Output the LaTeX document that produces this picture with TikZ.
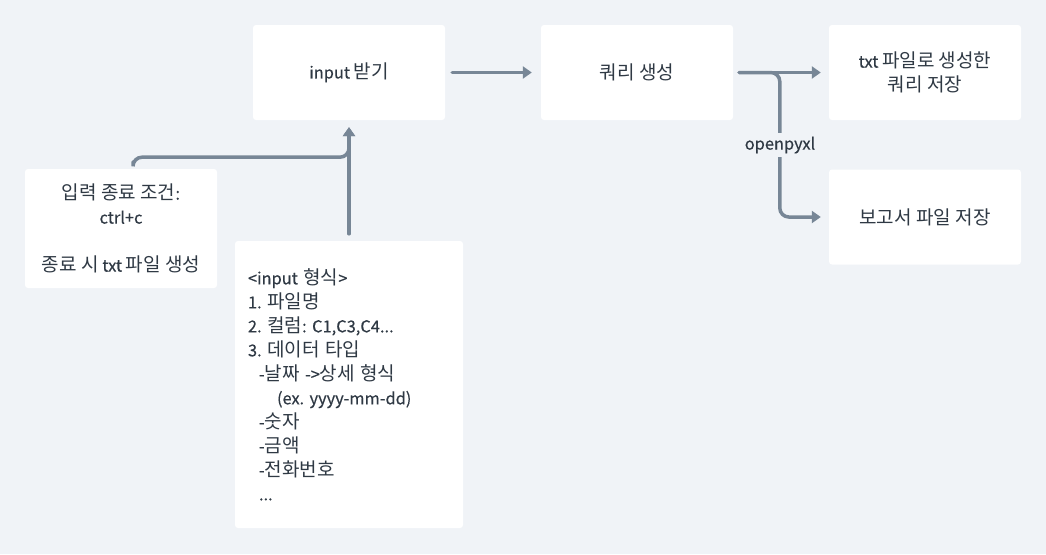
\documentclass[tikz,border=0pt]{standalone}
\usepackage{fontspec}
\setmainfont{Noto Sans CJK KR}[FakeBold=0.3]
\newfontfamily\korfont{Noto Sans CJK KR}[Scale=1.16]
\newcommand\hg[1]{{\korfont #1}}
\usetikzlibrary{arrows.meta}
\definecolor{bgc}{HTML}{F0F3F7}
\definecolor{linec}{HTML}{778696}
\definecolor{txtc}{HTML}{2F3944}
\frenchspacing
\begin{document}
\begin{tikzpicture}[x=1pt,y=-1pt,
  box/.style={fill=white, rounded corners=3pt, inner sep=0pt, text=txtc,
    font=\fontsize{16.4}{24}\selectfont\frenchspacing, minimum width=192pt, minimum height=95pt},
  conn/.style={draw=linec, line width=3.5pt, line cap=round, rounded corners=9pt},
  tip/.style={-{Triangle[length=9pt,width=12pt]}}]
\fill[bgc] (0,0) rectangle (1046,554);
\node[box] (in) at (349,72.5) {input \hg{받기}};
\node[box] (q) at (637,72.5) {\hg{쿼리 생성}};
\node[box, align=center] (t) at (925,72.5) {txt \hg{파일로 생성한}\\\hg{쿼리 저장}};
\node[box] (r) at (925,217) {\hg{보고서 파일 저장}};
\node[box, align=center, minimum height=119pt] (e) at (121,228.5) {\hg{입력 종료 조건}:\\ctrl+c\\[24pt]\hg{종료 시} txt \hg{파일 생성}};
\node[box, align=left, minimum width=228pt, minimum height=287pt, text width=202pt] (f) at (349,384.5) {%
<input \hg{형식}>\\
1. \hg{파일명}\\
2. \hg{컬럼}: C1,C3,C4...\\
3. \hg{데이터 타입}\\
\hspace*{11pt}-\hg{날짜} ->\hg{상세 형식}\\
\hspace*{29pt}(ex. yyyy-mm-dd)\\
\hspace*{11pt}-\hg{숫자}\\
\hspace*{11pt}-\hg{금액}\\
\hspace*{11pt}-\hg{전화번호}\\
\hspace*{11pt}...};
\draw[conn,tip] ([xshift=7pt]in.east) -- ([xshift=-9pt]q.west);
\draw[conn,tip] ([xshift=6pt]q.east) -- ([xshift=-8pt]t.west);
\draw[conn,tip] ([xshift=6pt]q.east) -| ([xshift=-49pt]r.west) -- ([xshift=-8pt]r.west);
\node[fill=bgc, text=txtc, font=\fontsize{16.4}{18}\selectfont, inner sep=4pt] (lab) at (780,145) {openpyxl};
\coordinate (s) at ([xshift=12pt,yshift=7pt]e.north);
\draw[conn,tip] (s) |- ([yshift=-37pt]in.south) -- ([yshift=-7pt]in.south);
\draw[conn,tip] ([yshift=7pt]f.north) -- ([yshift=-7pt]in.south);
\end{tikzpicture}
\end{document}
